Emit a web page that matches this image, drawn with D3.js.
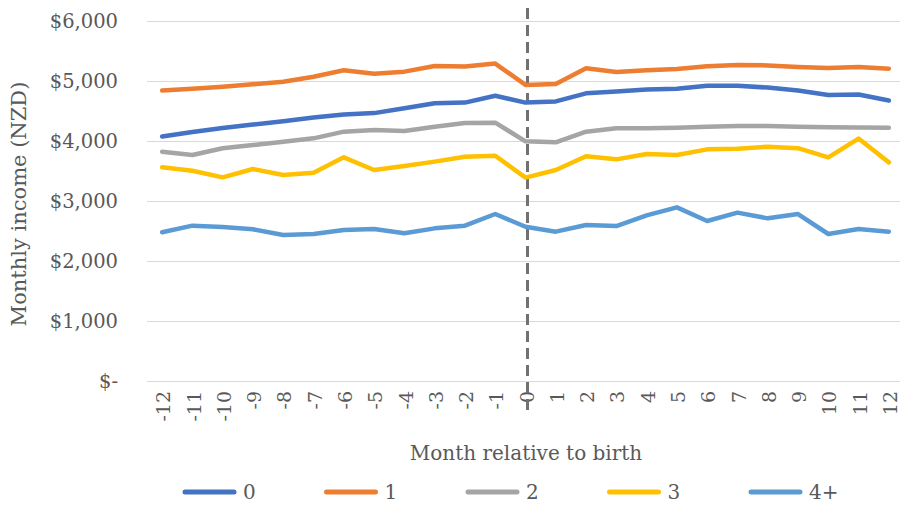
<!DOCTYPE html>
<html lang="en">
<head>
  <meta charset="UTF-8">
  <title>Monthly income relative to birth</title>
  <script src="https://d3js.org/d3.v7.min.js"></script>
  <style>
    body { margin: 0; padding: 0; background: #fff; }
    svg text { font-family: "DejaVu Serif", serif; fill: #595959; }
  </style>
</head>
<body>
  <svg id="chart" width="900" height="514"></svg>

  <script>
    // months relative to birth
    const months = [-12, -11, -10, -9, -8, -7, -6, -5, -4, -3, -2, -1, 0, 1, 2, 3, 4, 5, 6, 7, 8, 9, 10, 11, 12];

    const seriesNames = ["0", "1", "2", "3", "4+"];
    const seriesColors = ["#4472C4", "#ED7D31", "#A5A5A5", "#FFC000", "#5B9BD5"];

    const income0 = [4075, 4150, 4215, 4275, 4330, 4390, 4440, 4465, 4545, 4630, 4640, 4755, 4640, 4660, 4795, 4825, 4860, 4870, 4920, 4920, 4890, 4840, 4765, 4775, 4675];
    const income1 = [4840, 4872, 4905, 4944, 4989, 5072, 5180, 5120, 5156, 5250, 5240, 5290, 4935, 4950, 5211, 5150, 5180, 5200, 5245, 5265, 5260, 5235, 5215, 5235, 5205];
    const income2 = [3822, 3767, 3878, 3933, 3989, 4044, 4156, 4183, 4167, 4239, 4300, 4306, 3995, 3978, 4156, 4211, 4211, 4222, 4239, 4250, 4250, 4239, 4228, 4225, 4222];
    const income3 = [3561, 3505, 3394, 3533, 3433, 3472, 3728, 3517, 3583, 3656, 3739, 3755, 3390, 3517, 3745, 3694, 3783, 3767, 3861, 3872, 3906, 3880, 3728, 4040, 3644];
    const income4 = [2478, 2589, 2565, 2528, 2433, 2450, 2517, 2533, 2461, 2544, 2589, 2783, 2570, 2489, 2600, 2583, 2760, 2894, 2667, 2806, 2711, 2783, 2450, 2533, 2489];

    const yTicks = [0, 1000, 2000, 3000, 4000, 5000, 6000];

    const allSeries = [income0, income1, income2, income3, income4];

    const svg = d3.select("#chart");
    const plotLeft = 147, plotRight = 904, plotTop = 21, plotBottom = 381;

    const x = d3.scalePoint()
      .domain(months)
      .range([plotLeft, plotRight])
      .padding(0.5);

    const y = d3.scaleLinear()
      .domain([0, 6000])
      .range([plotBottom, plotTop]);

    const fmt = v => v === 0 ? "$-" : "$" + d3.format(",")(v);

    // gridlines + y labels
    const yAxis = d3.axisLeft(y)
      .tickValues(yTicks)
      .tickSize(-(900 - plotLeft))
      .tickFormat(fmt);

    const gy = svg.append("g")
      .attr("transform", `translate(${plotLeft},0)`)
      .call(yAxis);
    gy.select(".domain").remove();
    gy.selectAll("line").attr("stroke", "#d9d9d9").attr("stroke-width", 1);
    gy.selectAll("text")
      .attr("x", -29)
      .attr("dy", "0.35em")
      .style("font-size", "19.5px");

    // x axis labels, rotated
    const xAxis = d3.axisBottom(x).tickSize(0).tickSizeOuter(0);
    const gx = svg.append("g")
      .attr("transform", `translate(0,${plotBottom})`)
      .call(xAxis);
    gx.select(".domain").remove();
    gx.selectAll("text")
      .attr("transform", "rotate(-90)")
      .attr("x", -10)
      .attr("y", 1)
      .attr("dy", "0.35em")
      .style("text-anchor", "end")
      .style("font-size", "19px");

    // dashed line at birth
    svg.append("line")
      .attr("x1", x(0) + 2).attr("x2", x(0) + 2)
      .attr("y1", 8).attr("y2", 415)
      .attr("stroke", "#747070")
      .attr("stroke-width", 3)
      .attr("stroke-dasharray", "11,6");

    const line = d3.line()
      .x((d, i) => x(months[i]))
      .y(d => y(d));

    svg.append("g")
      .selectAll("path")
      .data(allSeries)
      .enter()
      .append("path")
      .attr("d", line)
      .attr("fill", "none")
      .attr("stroke", (d, i) => seriesColors[i])
      .attr("stroke-width", 4.5)
      .attr("stroke-linejoin", "round")
      .attr("stroke-linecap", "round");

    // axis titles
    svg.append("text")
      .attr("transform", "translate(26,204) rotate(-90)")
      .attr("text-anchor", "middle")
      .style("font-size", "21px")
      .text("Monthly income (NZD)");

    svg.append("text")
      .attr("x", 526)
      .attr("y", 460)
      .attr("text-anchor", "middle")
      .style("font-size", "20px")
      .text("Month relative to birth");

    // legend
    const legend = svg.append("g")
      .selectAll("g")
      .data(seriesNames)
      .enter()
      .append("g")
      .attr("transform", (d, i) => `translate(${183 + i * 141.5},492)`);

    legend.append("line")
      .attr("x1", 2).attr("x2", 51)
      .attr("stroke", (d, i) => seriesColors[i])
      .attr("stroke-width", 5)
      .attr("stroke-linecap", "round");

    legend.append("text")
      .attr("x", 60)
      .attr("dy", "0.35em")
      .style("font-size", "20px")
      .text(d => d);
  </script>
</body>
</html>
